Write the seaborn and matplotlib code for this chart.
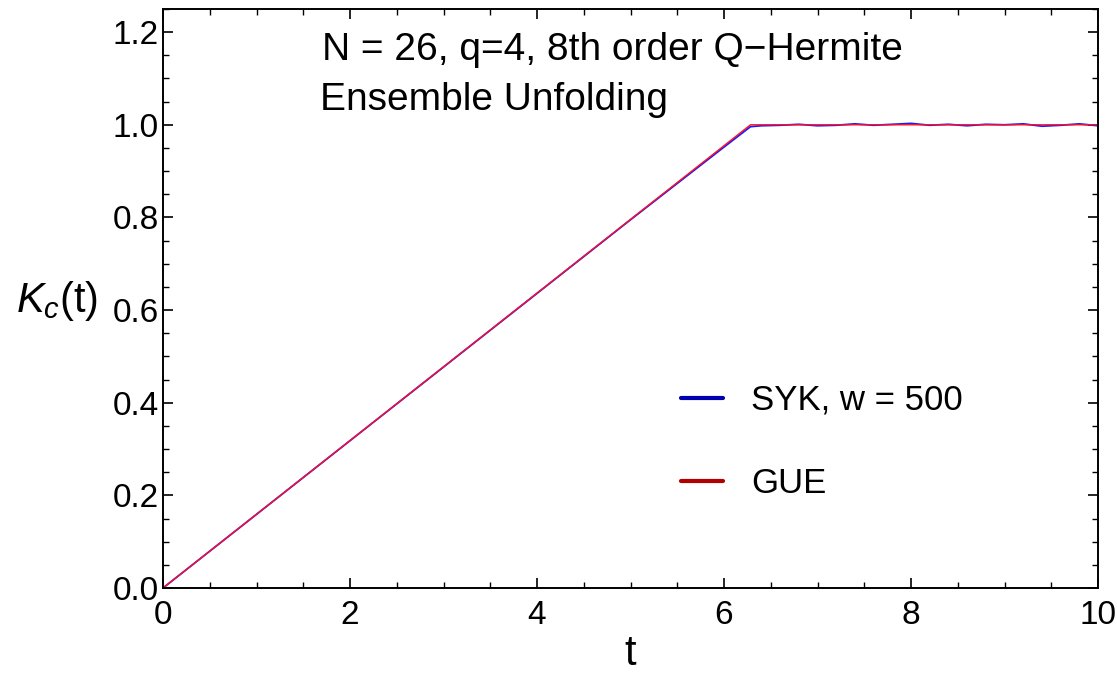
import numpy as np
import pandas as pd
import matplotlib
matplotlib.use("Agg")
import matplotlib.pyplot as plt
import seaborn as sns
from matplotlib.lines import Line2D
from matplotlib.ticker import MultipleLocator

# ---- data ----
gue_t = [0.0, 6.2832, 10.0]
gue_k = [0.0, 1.0, 1.0]

syk_t = [0.0, 1.0, 2.0, 3.0, 4.0, 5.0, 6.0, 6.2832, 6.4, 6.6, 6.8, 7.0, 7.2,
         7.4, 7.6, 7.8, 8.0, 8.2, 8.4, 8.6, 8.8, 9.0, 9.2, 9.4, 9.6, 9.8, 10.0]
syk_k = [0.0, 0.159, 0.318, 0.477, 0.636, 0.795, 0.952, 0.996, 0.998, 0.999,
         1.001, 0.998, 0.999, 1.002, 0.999, 1.001, 1.003, 0.999, 1.001, 0.998,
         1.001, 1.000, 1.002, 0.997, 0.999, 1.002, 0.998]

title_lines = ["N = 26, q=4, 8th order Q\u2212Hermite", "Ensemble Unfolding"]
syk_label = "SYK, w = 500"
gue_label = "GUE"
x_ticks = [0, 2, 4, 6, 8, 10]
y_ticks = [0.0, 0.2, 0.4, 0.6, 0.8, 1.0, 1.2]

sns.set_theme(style="white")
plt.rcParams['font.family'] = ['Liberation Sans', 'DejaVu Sans']
plt.rcParams['text.color'] = 'black'
plt.rcParams['axes.labelcolor'] = 'black'
plt.rcParams['xtick.color'] = 'black'
plt.rcParams['ytick.color'] = 'black'
plt.rcParams['mathtext.fontset'] = 'custom'
plt.rcParams['mathtext.rm'] = 'Liberation Sans'
plt.rcParams['mathtext.it'] = 'Liberation Sans:italic'

fig = plt.figure(figsize=(11.17, 6.73), dpi=100)
ax = fig.add_axes([163 / 1117, 1 - 588 / 673, (1098 - 163) / 1117, (588 - 9) / 673])

syk_df = pd.DataFrame({"t": syk_t, "K": syk_k})
gue_df = pd.DataFrame({"t": gue_t, "K": gue_k})
sns.lineplot(data=syk_df, x="t", y="K", ax=ax, color="#1a1aff", lw=1.3)
sns.lineplot(data=gue_df, x="t", y="K", ax=ax, color="#ff1020", lw=1.0)

ax.set_xlim(0, 10)
ax.set_ylim(0, 1.25)
ax.set_xticks(x_ticks)
ax.set_xticklabels([str(v) for v in x_ticks])
ax.set_yticks(y_ticks)
ax.set_yticklabels([f"{v:.1f}" for v in y_ticks])
ax.xaxis.set_minor_locator(MultipleLocator(0.5))
ax.yaxis.set_minor_locator(MultipleLocator(0.05))
ax.tick_params(which="both", direction="in", top=True, right=True,
               bottom=True, left=True, color="black", labelsize=24)
ax.tick_params(axis="x", pad=9)
ax.tick_params(axis="y", pad=3)
ax.tick_params(which="major", length=7, width=1.2)
ax.tick_params(which="minor", length=4, width=1.0)
for s in ax.spines.values():
    s.set_color("black")
    s.set_linewidth(1.4)

ax.set_xlabel("t", fontsize=30, labelpad=2)
ax.set_ylabel(r"$K_c$(t)", fontsize=30, rotation=0, va="center", ha="center")
ax.yaxis.set_label_coords(-0.113, 0.495)

fig.text(322 / 1117, 1 - 50 / 673, title_lines[0], fontsize=28, va="center", ha="left")
fig.text(320 / 1117, 1 - 100 / 673, title_lines[1], fontsize=28, va="center", ha="left")

handles = [Line2D([0], [0], color="#0000b0", lw=3),
           Line2D([0], [0], color="#b00000", lw=3)]
fig.legend(handles, [syk_label, gue_label], loc="upper left",
           bbox_to_anchor=(681 / 1117, 1 - 384 / 673), frameon=False, fontsize=25,
           handlelength=1.2, labelspacing=1.45, handletextpad=0.83,
           borderpad=0, borderaxespad=0)

ax.set_facecolor("white")
fig.savefig("out.png", dpi=100, facecolor="white")
